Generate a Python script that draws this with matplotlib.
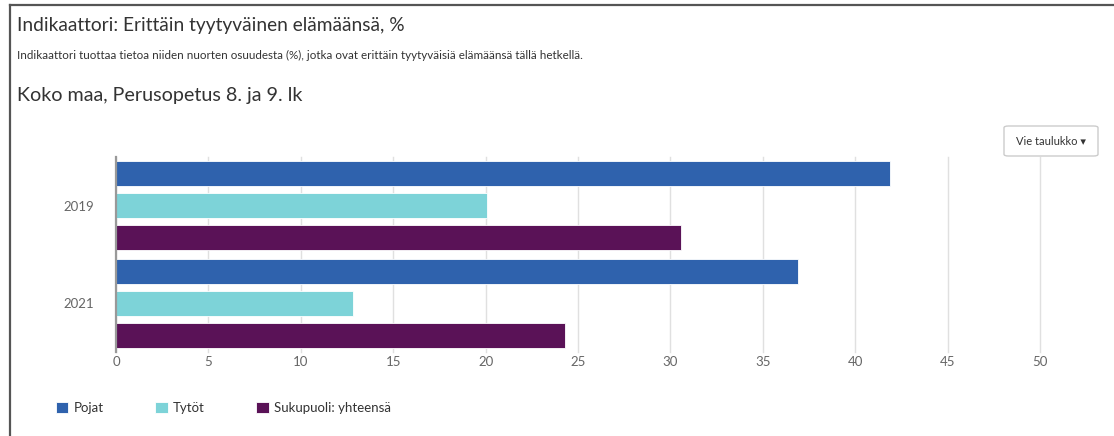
import matplotlib
matplotlib.use('Agg')
import matplotlib.pyplot as plt
from matplotlib.patches import FancyBboxPatch
from matplotlib.lines import Line2D
import numpy as np

years = ['2019', '2021']
series = ['Pojat', 'Tytöt', 'Sukupuoli: yhteensä']
pojat = [41.9, 36.9]
tytot = [20.1, 12.8]
yhteensa = [30.6, 24.3]
colors = ['#2f62ad', '#7dd3d8', '#5a1257']

plt.rcParams['font.family'] = ['Lato', 'DejaVu Sans']

W, H = 1114, 436
fig = plt.figure(figsize=(W / 100, H / 100), dpi=100)

def fx(px):
    return px / W

def fy(py):
    return 1 - py / H

ax = fig.add_axes([fx(116), fy(352), fx(1040) - fx(116), fy(157) - fy(352)])

y = np.arange(len(years))
pitch = 0.328
height = 0.256
for i, vals in enumerate([pojat, tytot, yhteensa]):
    ax.barh(y + (i - 1) * pitch, vals, height=height, color=colors[i],
            edgecolor='white', linewidth=0.6, label=series[i], zorder=3)

ax.set_xlim(0, 50)
ax.set_ylim(1.5, -0.5)
ax.set_xticks(np.arange(0, 51, 5))
ax.set_yticks(y)
ax.set_yticklabels(years)
ax.grid(axis='x', color='#e0e0e0', linewidth=1, zorder=0)
for gl in ax.get_xgridlines():
    gl.set_clip_on(False)
for s in ['top', 'right', 'bottom']:
    ax.spines[s].set_visible(False)
ax.spines['left'].set_color('#999999')
ax.spines['left'].set_linewidth(1.6)
ax.spines['left'].set_zorder(4)
ax.tick_params(axis='both', length=0, colors='#666666', labelsize=9.5)
ax.tick_params(axis='x', pad=3)
ax.tick_params(axis='y', pad=16)

# headings
fig.text(fx(17), fy(25), 'Indikaattori: Erittäin tyytyväinen elämäänsä, %',
         fontsize=13.8, color='#333333', va='center', ha='left')
fig.text(fx(17), fy(55), 'Indikaattori tuottaa tietoa niiden nuorten osuudesta (%), jotka ovat erittäin tyytyväisiä elämäänsä tällä hetkellä.',
         fontsize=8.4, color='#333333', va='center', ha='left')
fig.text(fx(17), fy(95), 'Koko maa, Perusopetus 8. ja 9. lk',
         fontsize=14.2, color='#333333', va='center', ha='left')

# export button
btn = FancyBboxPatch((fx(1004), fy(156)), fx(1098) - fx(1004), fy(126) - fy(156),
                     boxstyle='round,pad=0,rounding_size=0.004',
                     transform=fig.transFigure, facecolor='white',
                     edgecolor='#cccccc', linewidth=1)
fig.patches.append(btn)
fig.text(fx(1051), fy(141.5), 'Vie taulukko ▾', fontsize=8, color='#333333',
         ha='center', va='center')

# legend
handles, labels = ax.get_legend_handles_labels()
fig.legend(handles, labels, loc='center left', bbox_to_anchor=(fx(44), fy(408)),
           ncol=3, frameon=False, handlelength=0.95, handleheight=0.95,
           handletextpad=0.4, columnspacing=3.9, fontsize=9.5,
           labelcolor='#333333')

# outer frame
fig.add_artist(Line2D([fx(10), 1], [fy(5), fy(5)], transform=fig.transFigure,
                      color='#555555', linewidth=1.6))
fig.add_artist(Line2D([fx(10), fx(10)], [fy(5), 0], transform=fig.transFigure,
                      color='#555555', linewidth=1.6))

fig.savefig('out.png', dpi=100, facecolor='white')
